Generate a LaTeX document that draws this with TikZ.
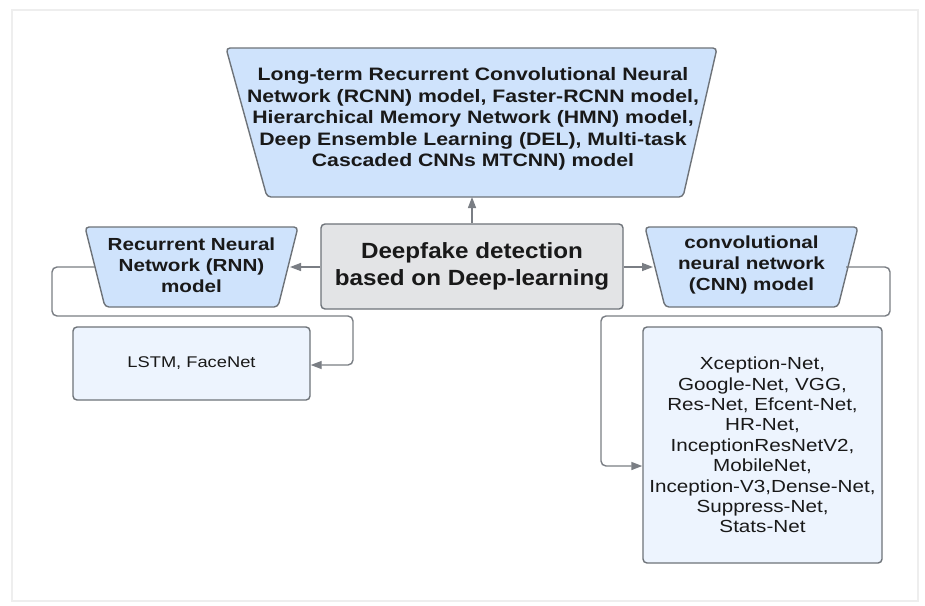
\documentclass[tikz,border=0pt]{standalone}
\usepackage{fontspec}
\setmainfont[FakeStretch=1.18]{Liberation Sans}
\newfontfamily\centerfont[FakeStretch=1.1]{Liberation Sans}
\usetikzlibrary{arrows.meta}
\definecolor{bordergray}{HTML}{6E7379}
\definecolor{linegray}{HTML}{7A7E84}
\definecolor{trapblue}{HTML}{CFE3FC}
\definecolor{boxblue}{HTML}{EDF4FE}
\definecolor{centergray}{HTML}{E3E4E6}
\definecolor{framegray}{HTML}{EEEEEE}
\tikzset{
  trapshape/.style={draw=bordergray, fill=trapblue, line width=1.4pt, rounded corners=4pt},
  boxshape/.style={draw=bordergray, line width=1.4pt, rounded corners=4pt, inner sep=0pt},
  conn/.style={draw=linegray, line width=1.4pt, rounded corners=5pt, -{Triangle[length=11pt,width=8pt]}},
  txt/.style={align=center, inner sep=0pt, text=black!90},
}
\begin{document}
\begin{tikzpicture}[x=1pt,y=-1pt]
\useasboundingbox (0,0) rectangle (925,605);
\fill[white] (0,0) rectangle (925,605);
\draw[framegray, line width=1.5pt] (12,10) rectangle (918,601);

% top trapezoid
\draw[trapshape] (226,48) -- (717,48) -- (683,197) -- (267,197) -- cycle;
\node[txt, font=\bfseries\fontsize{18}{21.5}\selectfont] (top) at (473,119)
  {Long-term Recurrent Convolutional Neural\\Network (RCNN) model, Faster-RCNN model,\\Hierarchical Memory Network (HMN) model,\\Deep Ensemble Learning (DEL), Multi-task\\Cascaded CNNs MTCNN) model};
\coordinate (topS) at (472,197);

% center box
\node[boxshape, fill=centergray, minimum width=302pt, minimum height=85pt,
      txt, font=\centerfont\bfseries\fontsize{22}{26.5}\selectfont] (center) at (472,266.5)
  {Deepfake detection\\based on Deep-learning};

% RNN trapezoid
\draw[trapshape] (85,227) -- (298,227) -- (278,307) -- (105,307) -- cycle;
\node[txt, font=\bfseries\fontsize{17.5}{21}\selectfont] (rnn) at (191.5,265)
  {Recurrent Neural\\Network (RNN)\\model};
\coordinate (rnnE) at (290,267);
\coordinate (rnnW) at (95,267);

% CNN trapezoid
\draw[trapshape] (645,227) -- (858,227) -- (838,307) -- (665,307) -- cycle;
\node[txt, font=\bfseries\fontsize{17.5}{21}\selectfont] (cnn) at (751.5,265)
  {convolutional\\neural network\\(CNN) model};
\coordinate (cnnW) at (653,267);
\coordinate (cnnE) at (846,267);

% LSTM box
\node[boxshape, fill=boxblue, minimum width=237pt, minimum height=73pt,
      txt, font=\fontsize{15.5}{18}\selectfont] (lstm) at (191.5,363.5)
  {LSTM, FaceNet};

% CNN list box
\node[boxshape, fill=boxblue, minimum width=239pt, minimum height=236pt,
      txt, font=\fontsize{17.5}{20.4}\selectfont] (list) at (762.5,445)
  {Xception-Net,\\Google-Net, VGG,\\Res-Net, Efcent-Net,\\HR-Net,\\InceptionResNetV2,\\MobileNet,\\Inception-V3,Dense-Net,\\Suppress-Net,\\Stats-Net};

% connectors
\draw[conn] (center.north) -- (topS);
\draw[conn] (center.west |- rnnE) -- (rnnE);
\draw[conn] (center.east |- cnnW) -- (cnnW);
\draw[conn] (rnnW) -- (52,267) -- (52,316) -- (353,316) -- (353,365) -- (lstm.east |- 0,365);
\draw[conn] (cnnE) -- (890,267) -- (890,316) -- (601,316) -- (601,466) -- (list.west |- 0,466);
\end{tikzpicture}
\end{document}
